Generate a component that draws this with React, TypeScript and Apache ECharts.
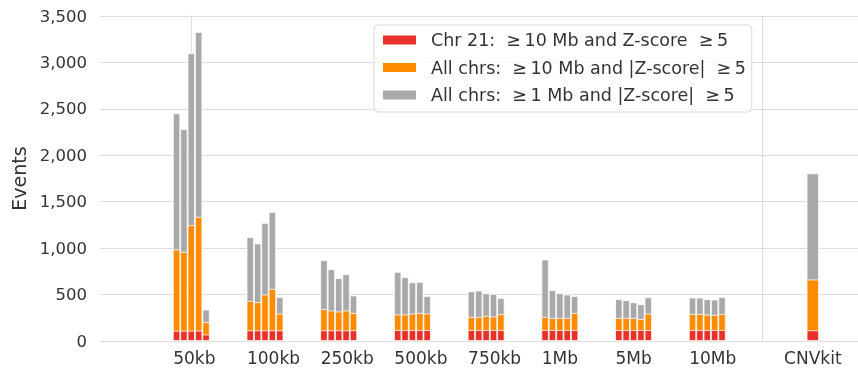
import React, { useEffect, useRef } from 'react';
import * as echarts from 'echarts';

// Resolution groups (x-axis categories)
const groups = ['50kb', '100kb', '250kb', '500kb', '750kb', '1Mb', '5Mb', '10Mb'];
const cnvkitLabel = 'CNVkit';

// Legend / series names
const nameChr21 = 'Chr 21:\u00a0 \u2265\u200910 Mb and Z-score\u00a0 \u2265\u20095';
const nameAll10 = 'All chrs:\u00a0 \u2265\u200910 Mb and |Z-score|\u00a0 \u2265\u20095';
const nameAll1 = 'All chrs:\u00a0 \u2265\u20091 Mb and |Z-score|\u00a0 \u2265\u20095';

// All chrs: >= 1 Mb and |Z| >= 5 (gray), five bars per group
const gray1Mb = [
  [2451, 2282, 3098, 3328, 338],
  [1118, 1050, 1272, 1391, 474],
  [870, 773, 676, 719, 489],
  [744, 687, 633, 636, 485],
  [536, 543, 514, 507, 464],
  [877, 547, 514, 500, 485],
  [450, 439, 417, 396, 471],
  [468, 468, 450, 446, 474],
];

// All chrs: >= 10 Mb and |Z| >= 5 (orange)
const orange10Mb = [
  [985, 959, 1247, 1337, 202],
  [431, 417, 500, 561, 295],
  [342, 328, 317, 328, 302],
  [285, 285, 295, 302, 295],
  [259, 259, 270, 263, 288],
  [259, 248, 248, 248, 302],
  [248, 248, 248, 237, 295],
  [291, 291, 284, 280, 291],
];

// Chr 21: >= 10 Mb and Z >= 5 (red)
const red21 = [
  [110, 110, 110, 112, 70],
  [115, 115, 115, 115, 115],
  [115, 115, 115, 115, 115],
  [118, 118, 118, 118, 118],
  [118, 118, 118, 118, 118],
  [118, 118, 118, 118, 118],
  [118, 118, 118, 118, 118],
  [118, 118, 118, 118, 118],
];

// CNVkit single bar
const cnvkitGray = [1805];
const cnvkitOrange = [662];
const cnvkitRed = [115];

// y-axis ticks
const yMax = 3500;
const yStep = 500;

const RED = '#e8312a';
const ORANGE = '#ff8c00';
const GRAY = '#a9a9a9';
const TEXT = '#333333';
const GRID = '#dddddd';
const FONT = 'DejaVu Sans';

export default function App() {
  const ref = useRef<HTMLDivElement>(null);

  useEffect(() => {
    if (!ref.current) return;
    const chart = echarts.init(ref.current, null, { renderer: 'svg' });

    const xMin = -1.2386;
    const xMax = 9.045;
    const barStep = 0.1;
    const cnvkitPos = 8.432;
    const separatorPos = 7.742;
    const posOf = (g: number, k: number) => g + (k - 2) * barStep;
    const build = (vals: number[][]) =>
      vals.flatMap((row, g) => row.map((v, k) => [posOf(g, k), v]));
    const labelPos = groups.map((_, g) => g - 0.245);

    const barBase = {
      type: 'bar' as const,
      barGap: '-100%',
      silent: true,
    };
    const mainW = 7.37;
    const cnvW = 12.4;
    const border = { borderColor: '#ffffff', borderWidth: 0.8 };

    chart.setOption({
      animation: false,
      textStyle: { fontFamily: FONT },
      grid: { left: 100, right: 0, top: 16, bottom: 30, containLabel: false },
      legend: {
        data: [nameChr21, nameAll10, nameAll1],
        orient: 'vertical',
        left: 374,
        top: 25,
        icon: 'rect',
        itemWidth: 35,
        itemHeight: 11,
        itemGap: 9.5,
        padding: [6, 6, 8, 7],
        backgroundColor: 'rgba(255,255,255,0.8)',
        borderColor: '#d8d8d8',
        borderWidth: 1,
        borderRadius: 4,
        textStyle: { fontSize: 17.5, color: TEXT, fontFamily: FONT, padding: [0, 0, 0, 9] },
        selectedMode: false,
      },
      xAxis: [
        {
          type: 'value',
          position: 'bottom',
          min: xMin,
          max: xMax,
          axisLine: { show: false },
          axisTick: { show: false },
          splitLine: { show: false },
          axisLabel: {
            customValues: labelPos,
            align: 'left',
            margin: 8,
            fontSize: 17,
            color: TEXT,
            fontFamily: FONT,
            formatter: (v: number) => {
              const i = labelPos.findIndex((p) => Math.abs(p - v) < 1e-6);
              return i >= 0 ? groups[i] : '';
            },
          },
        },
        {
          type: 'value',
          position: 'bottom',
          min: xMin,
          max: xMax,
          axisLine: { show: false },
          axisTick: { show: false },
          splitLine: { show: false },
          axisLabel: {
            customValues: [cnvkitPos],
            align: 'center',
            margin: 8,
            fontSize: 17,
            color: TEXT,
            fontFamily: FONT,
            formatter: (v: number) => (Math.abs(v - cnvkitPos) < 1e-6 ? cnvkitLabel : ''),
          },
        },
      ],
      yAxis: {
        type: 'value',
        min: 0,
        max: yMax,
        interval: yStep,
        name: 'Events',
        nameLocation: 'middle',
        nameGap: 67,
        nameTextStyle: { fontSize: 19, color: TEXT, fontFamily: FONT },
        axisLine: { show: true, lineStyle: { color: GRID, width: 1 } },
        axisTick: { show: false },
        splitLine: { show: true, lineStyle: { color: GRID, width: 1 } },
        axisLabel: {
          margin: 13,
          fontSize: 16.5,
          color: TEXT,
          fontFamily: FONT,
          formatter: (v: number) => v.toLocaleString('en-US'),
        },
      },
      series: [
        {
          ...barBase,
          name: nameAll1,
          xAxisIndex: 0,
          barWidth: mainW,
          itemStyle: { color: GRAY, ...border },
          data: build(gray1Mb),
          markLine: {
            silent: true,
            symbol: ['none', 'none'],
            label: { show: false },
            lineStyle: { color: GRID, width: 1, type: 'solid' },
            data: [{ xAxis: separatorPos }],
          },
        },
        {
          ...barBase,
          name: nameAll10,
          xAxisIndex: 0,
          barWidth: mainW,
          itemStyle: { color: ORANGE, ...border },
          data: build(orange10Mb),
        },
        {
          ...barBase,
          name: nameChr21,
          xAxisIndex: 0,
          barWidth: mainW,
          itemStyle: { color: RED, ...border },
          data: build(red21),
        },
        {
          ...barBase,
          name: nameAll1,
          xAxisIndex: 1,
          barWidth: cnvW,
          itemStyle: { color: GRAY, ...border },
          data: cnvkitGray.map((v) => [cnvkitPos, v]),
        },
        {
          ...barBase,
          name: nameAll10,
          xAxisIndex: 1,
          barWidth: cnvW,
          itemStyle: { color: ORANGE, ...border },
          data: cnvkitOrange.map((v) => [cnvkitPos, v]),
        },
        {
          ...barBase,
          name: nameChr21,
          xAxisIndex: 1,
          barWidth: cnvW,
          itemStyle: { color: RED, ...border },
          data: cnvkitRed.map((v) => [cnvkitPos, v]),
        },
      ],
    });

    return () => chart.dispose();
  }, []);

  return (
    <div
      ref={ref}
      style={{ position: 'fixed', left: 0, top: 0, width: 858, height: 371 }}
    />
  );
}
